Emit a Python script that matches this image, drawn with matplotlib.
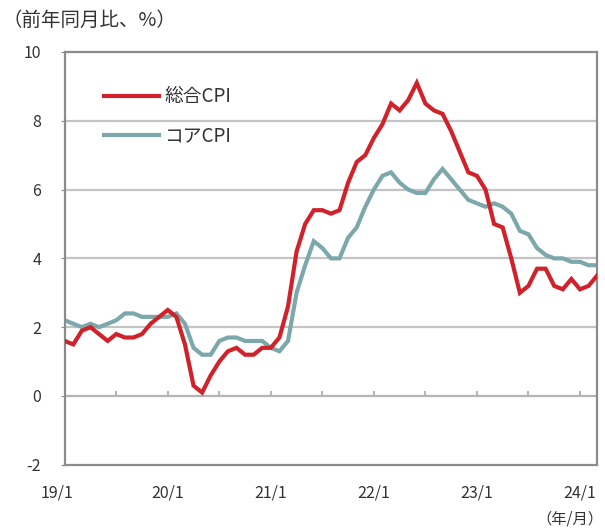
import numpy as np
import matplotlib
matplotlib.use('Agg')
import matplotlib.pyplot as plt
import matplotlib.transforms as mtransforms

plt.rcParams['font.family'] = ['Noto Sans CJK JP', 'DejaVu Sans']
plt.rcParams['axes.unicode_minus'] = False

# monthly data, 2019/1 - 2024/3 (YoY %)
headline_cpi = [1.6, 1.5, 1.9, 2.0, 1.8, 1.6, 1.8, 1.7, 1.7, 1.8, 2.1, 2.3,
                2.5, 2.3, 1.5, 0.3, 0.1, 0.6, 1.0, 1.3, 1.4, 1.2, 1.2, 1.4,
                1.4, 1.7, 2.6, 4.2, 5.0, 5.4, 5.4, 5.3, 5.4, 6.2, 6.8, 7.0,
                7.5, 7.9, 8.5, 8.3, 8.6, 9.1, 8.5, 8.3, 8.2, 7.7, 7.1, 6.5,
                6.4, 6.0, 5.0, 4.9, 4.0, 3.0, 3.2, 3.7, 3.7, 3.2, 3.1, 3.4,
                3.1, 3.2, 3.5]
core_cpi = [2.2, 2.1, 2.0, 2.1, 2.0, 2.1, 2.2, 2.4, 2.4, 2.3, 2.3, 2.3,
            2.3, 2.4, 2.1, 1.4, 1.2, 1.2, 1.6, 1.7, 1.7, 1.6, 1.6, 1.6,
            1.4, 1.3, 1.6, 3.0, 3.8, 4.5, 4.3, 4.0, 4.0, 4.6, 4.9, 5.5,
            6.0, 6.4, 6.5, 6.2, 6.0, 5.9, 5.9, 6.3, 6.6, 6.3, 6.0, 5.7,
            5.6, 5.5, 5.6, 5.5, 5.3, 4.8, 4.7, 4.3, 4.1, 4.0, 4.0, 3.9,
            3.9, 3.8, 3.8]
series_names = ['総合CPI', 'コアCPI']
year_labels = ['19/1', '20/1', '21/1', '22/1', '23/1', '24/1']

red = '#D0222A'
teal = '#7DA8AB'
frame = '#8C8C8C'

x = np.arange(len(headline_cpi))

fig = plt.figure(figsize=(6.05, 5.30), dpi=100)
ax = fig.add_axes([0.107, 0.123, 0.880, 0.779])

for y in [2, 4, 6, 8]:
    ax.axhline(y, color='#C4C4C4', lw=1.6, zorder=1)
ax.axhline(0, color='#B4B4B4', lw=1.6, zorder=1)
ax.vlines(np.arange(0, len(x), 6), 0, 0.14, color='#B4B4B4', lw=1.4, zorder=1)

ax.plot(x, headline_cpi, color=red, lw=3, label=series_names[0], zorder=3,
        solid_joinstyle='miter')
ax.plot(x, core_cpi, color=teal, lw=3, label=series_names[1], zorder=2,
        solid_joinstyle='miter')

ax.set_xticks(range(0, 61, 12))
ax.set_xticklabels(year_labels)
ax.set_yticks(range(-2, 11, 2))
ax.set_xlim(0, len(x) - 1)
ax.set_ylim(-2, 10)
ax.tick_params(axis='x', length=0, pad=14, labelsize=11.5, colors='#333333')
ax.tick_params(axis='y', length=3, pad=14, labelsize=11.5, colors='#333333',
               direction='out', color=frame)
for lbl in ax.get_yticklabels():
    lbl.set_color('#333333')
for lbl in ax.get_xticklabels():
    lbl.set_color('#333333')

# first label sits a little left of the axis start, as in the original
first = ax.xaxis.get_major_ticks()[0].label1
first.set_transform(first.get_transform() +
                    mtransforms.ScaledTranslation(-8 / 100, 0, fig.dpi_scale_trans))

for s in ax.spines.values():
    s.set_color(frame)
    s.set_linewidth(1.6)

leg = ax.legend(loc='upper left', bbox_to_anchor=(0.06, 0.935), frameon=False,
                handlelength=2.9, handletextpad=0.3, labelspacing=0.95,
                fontsize=13.5, borderaxespad=0)
for t in leg.get_texts():
    t.set_color('#333333')

fig.text(0.004, 0.962, '（前年同月比、%）', fontsize=14, color='#333333',
         ha='left', va='center')
fig.text(0.997, 0.020, '（年/月）', fontsize=11, color='#333333',
         ha='right', va='center')

fig.savefig('out.png', dpi=100)
